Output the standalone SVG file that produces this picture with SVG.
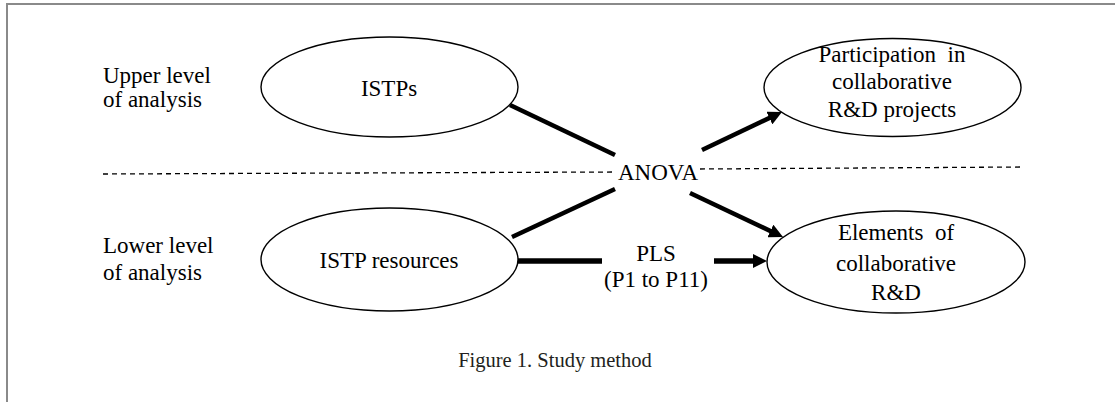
<svg xmlns="http://www.w3.org/2000/svg" width="1115" height="402" viewBox="0 0 1115 402">
<style>
.lab{font-family:'Liberation Serif','Times New Roman',serif;font-size:23px;fill:#000}
.nt{font-family:'Liberation Serif','Times New Roman',serif;font-size:23px;fill:#000;text-anchor:middle}
.cap{font-family:'Liberation Serif','Times New Roman',serif;font-size:20.5px;fill:#231f20;text-anchor:middle}
.node{fill:#fff;stroke:#000;stroke-width:1.4}
.c{stroke:#000;stroke-width:4.5;fill:none}
.cw{stroke:#000;stroke-width:5.5;fill:none}
.dash{stroke:#000;stroke-width:1.3;stroke-dasharray:5 4;fill:none}
</style>
<defs>
<marker id="ah" markerUnits="userSpaceOnUse" markerWidth="14" markerHeight="14" viewBox="0 0 10 10" refX="4.3" refY="5" orient="auto">
<path d="M0,0 L10,5 L0,10 Z" fill="#000"/>
</marker>
</defs>
<rect width="1115" height="402" fill="#fff"/>
<path d="M7,402 V4 H1115" stroke="#8a8a8a" stroke-width="2" fill="none"/>

<g id="level-labels">
<text class="lab" x="103" y="83">Upper level</text>
<text class="lab" x="103" y="107">of analysis</text>
<text class="lab" x="103" y="253">Lower level</text>
<text class="lab" x="103" y="280">of analysis</text>
</g>

<g id="dashed-divider">
<line class="dash" x1="103" y1="174" x2="614" y2="172"/>
<line class="dash" x1="700" y1="169" x2="1022" y2="167"/>
</g>

<g id="connectors">
<line class="c" x1="510" y1="105" x2="615" y2="155"/>
<line class="c" x1="512" y1="237" x2="615" y2="189"/>
<line class="c" x1="702" y1="150" x2="774.8" y2="115.4" marker-end="url(#ah)"/>
<line class="c" x1="690" y1="193" x2="775.8" y2="233.6" marker-end="url(#ah)"/>
<line class="cw" x1="518" y1="261" x2="602" y2="261"/>
<line class="cw" x1="714" y1="261" x2="759" y2="261" marker-end="url(#ah)"/>
</g>

<g id="anova">
<text class="nt" x="658" y="180">ANOVA</text>
</g>
<g id="pls">
<text class="nt" x="656" y="261">PLS</text>
<text class="nt" x="656" y="287">(P1 to P11)</text>
</g>

<g id="istps">
<ellipse class="node" cx="389.5" cy="87" rx="128.5" ry="50"/>
<text class="nt" x="389" y="96">ISTPs</text>
</g>
<g id="participation">
<ellipse class="node" cx="892.5" cy="87.5" rx="128.5" ry="49"/>
<text class="nt" x="892" y="62" xml:space="preserve">Participation  in</text>
<text class="nt" x="892" y="89">collaborative</text>
<text class="nt" x="892" y="117">R&amp;D projects</text>
</g>
<g id="istp-resources">
<ellipse class="node" cx="389.5" cy="259.5" rx="128.5" ry="51.5"/>
<text class="nt" x="389" y="268">ISTP resources</text>
</g>
<g id="elements">
<ellipse class="node" cx="896" cy="262" rx="129" ry="51"/>
<text class="nt" x="896" y="240" xml:space="preserve">Elements  of</text>
<text class="nt" x="896" y="271">collaborative</text>
<text class="nt" x="896" y="300">R&amp;D</text>
</g>

<text class="cap" x="555" y="367">Figure 1. Study method</text>
</svg>
